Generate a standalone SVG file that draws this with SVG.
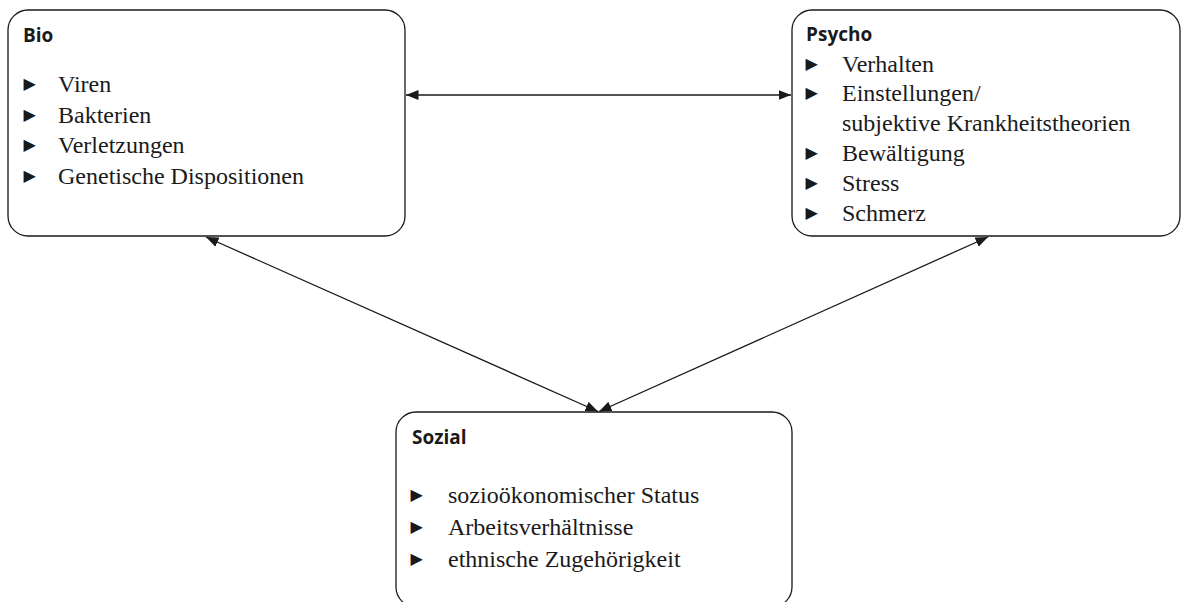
<svg xmlns="http://www.w3.org/2000/svg" width="1183" height="602" viewBox="0 0 1183 602">
<style>
.box{fill:#fff;stroke:#1a1a1a;stroke-width:1.3}
.head{font-family:"Open Sans","Noto Sans",sans-serif;font-weight:bold;font-size:19px;fill:#1a1a1a}
.item{font-family:"Liberation Serif","Times New Roman",serif;font-size:24px;fill:#1a1a1a}
.bul{font-family:"DejaVu Sans",sans-serif;font-size:16px;fill:#1a1a1a}
.conn{stroke:#1a1a1a;stroke-width:1.3;fill:none;marker-start:url(#ah);marker-end:url(#ah)}
</style>
<defs>
<marker id="ah" markerUnits="userSpaceOnUse" markerWidth="13" markerHeight="11" viewBox="0 0 13 11" refX="12.5" refY="5.5" orient="auto-start-reverse">
<path d="M0,0.5 L12.5,5.5 L0,10.5 z" fill="#1a1a1a"/>
</marker>
</defs>
<g id="connectors">
<line class="conn" x1="406" y1="95" x2="791" y2="95"/>
<line class="conn" x1="206" y1="237" x2="598" y2="411.5"/>
<line class="conn" x1="988" y1="237" x2="599" y2="411.5"/>
</g>
<g id="bio">
<rect class="box" x="8" y="10" width="397" height="226" rx="20"/>
<text class="head" x="23" y="42">Bio</text>
<text class="bul" x="23.5" y="89">▶</text><text class="item" x="58" y="92">Viren</text>
<text class="bul" x="23.5" y="119.5">▶</text><text class="item" x="58" y="122.5">Bakterien</text>
<text class="bul" x="23.5" y="150">▶</text><text class="item" x="58" y="153">Verletzungen</text>
<text class="bul" x="23.5" y="181">▶</text><text class="item" x="58" y="184">Genetische Dispositionen</text>
</g>
<g id="psycho">
<rect class="box" x="792" y="10" width="388" height="226" rx="20"/>
<text class="head" x="806" y="41">Psycho</text>
<text class="bul" x="805.5" y="69">▶</text><text class="item" x="842" y="72">Verhalten</text>
<text class="bul" x="805.5" y="98">▶</text><text class="item" x="842" y="101">Einstellungen/</text>
<text class="item" x="842" y="131">subjektive Krankheitstheorien</text>
<text class="bul" x="805.5" y="158">▶</text><text class="item" x="842" y="161">Bewältigung</text>
<text class="bul" x="805.5" y="188">▶</text><text class="item" x="842" y="191">Stress</text>
<text class="bul" x="805.5" y="218">▶</text><text class="item" x="842" y="221">Schmerz</text>
</g>
<g id="sozial">
<rect class="box" x="396" y="412" width="396" height="195" rx="20"/>
<text class="head" x="412" y="444">Sozial</text>
<text class="bul" x="410.5" y="500">▶</text><text class="item" x="448" y="503">sozioökonomischer Status</text>
<text class="bul" x="410.5" y="532">▶</text><text class="item" x="448" y="535">Arbeitsverhältnisse</text>
<text class="bul" x="410.5" y="564">▶</text><text class="item" x="448" y="567">ethnische Zugehörigkeit</text>
</g>
</svg>
